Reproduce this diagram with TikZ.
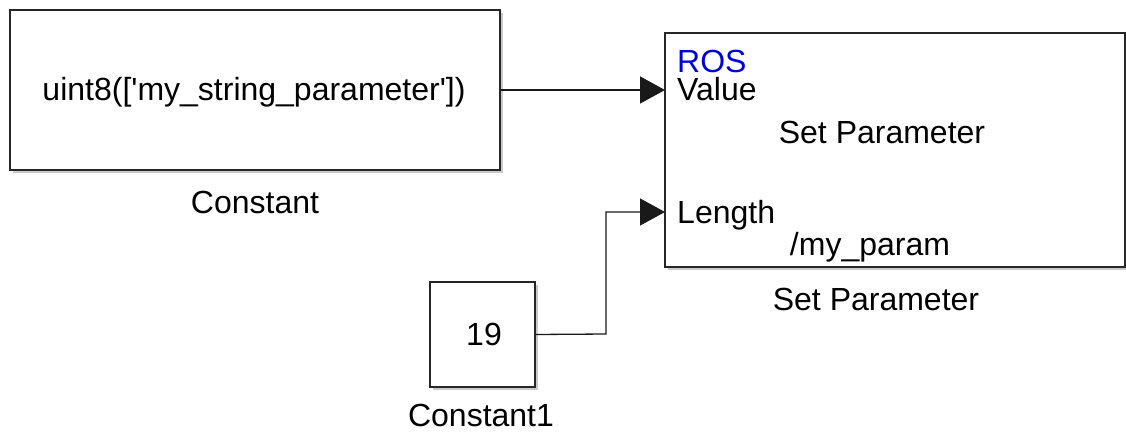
\documentclass[tikz,border=0pt]{standalone}
\usepackage{fontspec}
\setmainfont{Liberation Sans}
\usetikzlibrary{arrows.meta,shadows}
\begin{document}
\begin{tikzpicture}[x=1pt,y=-1pt,
  blk/.style={draw=black!85,line width=1.6pt,fill=white,inner sep=0pt,
    drop shadow={shadow xshift=2.5pt,shadow yshift=-2.5pt,fill=black!35,opacity=0.6}},
  txt/.style={inner sep=0pt,font=\fontsize{32}{38}\selectfont},
  conn/.style={draw=black!90,line width=1.3pt,-{Triangle[length=25pt,width=27pt]}},
  wire/.style={draw=black!90,line width=1.3pt}]
\useasboundingbox[fill=white] (0,0) rectangle (1126,431);
% Constant block
\node[blk,minimum width=490pt,minimum height=160pt] (c) at (255,90) {};
\node[txt,anchor=base] (ctext) at (254,100) {uint8([\textquotesingle my\_string\_parameter\textquotesingle])};
\node[txt,anchor=base] (clab) at (255,213) {Constant};
% Constant1 block
\node[blk,minimum width=105pt,minimum height=105pt] (c1) at (482.5,334.5) {};
\node[txt,anchor=base] (c1text) at (484,345) {19};
\node[txt,anchor=base] (c1lab) at (481,426) {Constant1};
% Set Parameter block
\node[blk,minimum width=460pt,minimum height=234pt] (sp) at (895,150) {};
\node[txt,anchor=base west,text=blue!85!black] (ros) at (677,72) {ROS};
\node[txt,anchor=base west] (val) at (677,100) {Value};
\node[txt,anchor=base] (sptext) at (882,143) {Set Parameter};
\node[txt,anchor=base west] (len) at (677,223) {Length};
\node[txt,anchor=base] (param) at (870,255) {/my\_param};
\node[txt,anchor=base] (splab) at (876,310) {Set Parameter};
\coordinate (pv) at (665,90);
\coordinate (pl) at (665,212);
\coordinate (bend) at (606,334);
% connectors
\draw[conn] (c.east) -- (pv);
\draw[conn] (c1.east) -- (bend) |- (pl);
\end{tikzpicture}
\end{document}
